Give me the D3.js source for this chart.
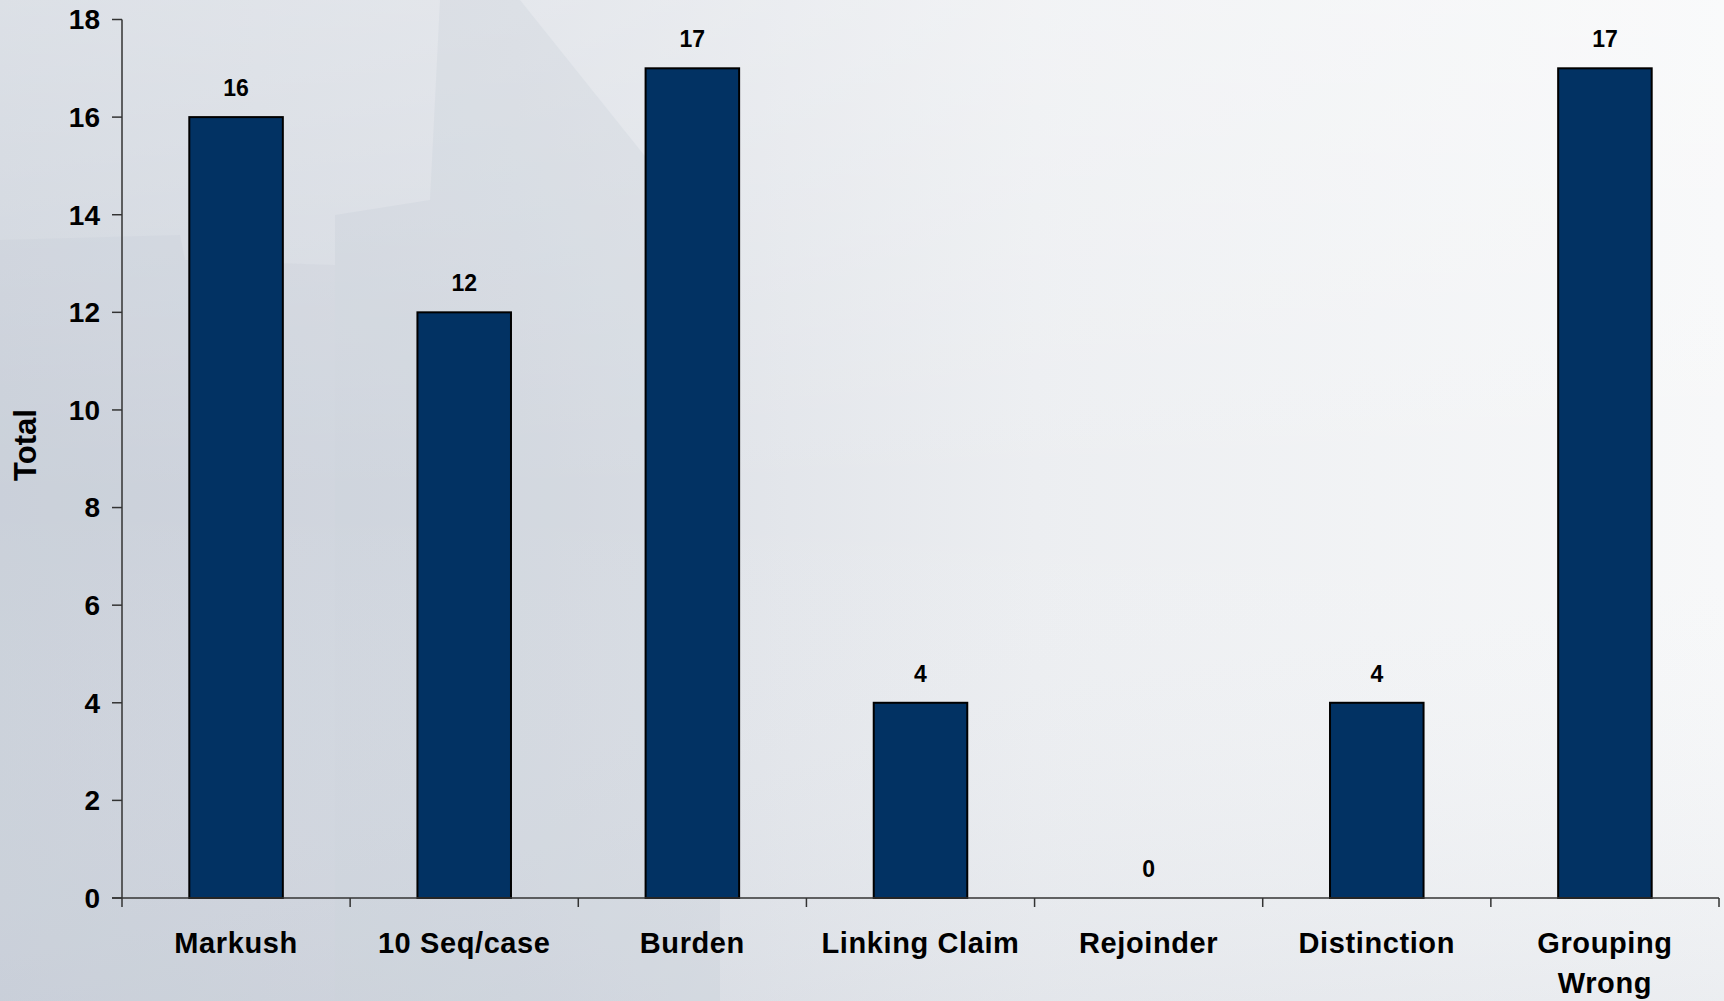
<!DOCTYPE html>
<html><head><meta charset="utf-8">
<script src="https://cdn.jsdelivr.net/npm/d3@7"></script>
<style>html,body{margin:0;padding:0;overflow:hidden;background:#eef0f3}</style>
</head><body><svg id="c" width="1724" height="1001"></svg>
<script>
const categories = ["Markush","10 Seq/case","Burden","Linking Claim","Rejoinder","Distinction","Grouping Wrong"];
const values = [16,12,17,4,0,4,17];
const yTicks = [0,2,4,6,8,10,12,14,16,18];

const svg = d3.select("#c");
const W = 1724, H = 1001;
const defs = svg.append("defs");
const g1 = defs.append("linearGradient").attr("id","bg").attr("x1","0").attr("y1","0").attr("x2","1").attr("y2","0");
g1.append("stop").attr("offset","0").attr("stop-color","#cdd3dc");
g1.append("stop").attr("offset","0.3").attr("stop-color","#d9dde4");
g1.append("stop").attr("offset","0.6").attr("stop-color","#eceef1");
g1.append("stop").attr("offset","1").attr("stop-color","#f7f8f9");
const g2 = defs.append("linearGradient").attr("id","bgv").attr("x1","0").attr("y1","0").attr("x2","0").attr("y2","1");
g2.append("stop").attr("offset","0").attr("stop-color","#ffffff").attr("stop-opacity","0.3");
g2.append("stop").attr("offset","0.5").attr("stop-color","#ffffff").attr("stop-opacity","0.0");
g2.append("stop").attr("offset","1").attr("stop-color","#c8ced8").attr("stop-opacity","0.25");
svg.append("rect").attr("width",W).attr("height",H).attr("fill","url(#bg)");
svg.append("rect").attr("width",W).attr("height",H).attr("fill","url(#bgv)");
// faint building silhouette
svg.append("path").attr("d","M335,1001 L335,215 L430,200 L440,0 L520,0 L640,150 L680,200 L720,230 L720,1001 Z")
  .attr("fill","#b8c0cc").attr("opacity",0.18);
svg.append("path").attr("d","M0,1001 L0,240 L180,235 L185,260 L335,265 L335,1001 Z")
  .attr("fill","#b8c0cc").attr("opacity",0.14);

const pL = 122, pR = 1719, pT = 19.5, pB = 898;
const x = d3.scaleBand().domain(categories).range([pL,pR]).paddingInner(0.59).paddingOuter(0.295);
const xb = d3.scaleBand().domain(categories).range([pL,pR]).padding(0);
const y = d3.scaleLinear().domain([0,18]).range([pB,pT]);

const font = "'Liberation Sans', Arial, sans-serif";

// bars
svg.selectAll("rect.bar").data(categories).enter().append("rect")
  .attr("class","bar")
  .attr("x", d => x(d))
  .attr("y", (d,i) => y(values[i]))
  .attr("width", x.bandwidth())
  .attr("height", (d,i) => y(0) - y(values[i]))
  .attr("fill","#023263").attr("stroke","#000").attr("stroke-width",2);

// value labels
svg.selectAll("text.val").data(categories).enter().append("text")
  .attr("x", d => x(d) + x.bandwidth()/2)
  .attr("y", (d,i) => y(values[i]) - 21)
  .attr("text-anchor","middle").attr("font-family",font).attr("font-weight","bold")
  .attr("font-size",23).attr("fill","#000")
  .text((d,i) => values[i]);

// y axis
const ax = svg.append("g").attr("stroke","#333");
ax.append("line").attr("x1",pL).attr("x2",pL).attr("y1",y(18)).attr("y2",y(0)).attr("stroke-width",1.5);
ax.selectAll("line.t").data(yTicks).enter().append("line")
  .attr("x1",pL-10).attr("x2",pL).attr("y1",d=>y(d)).attr("y2",d=>y(d)).attr("stroke-width",1.5);
svg.selectAll("text.yt").data(yTicks).enter().append("text")
  .attr("x", pL-22).attr("y", d => y(d)).attr("dy","0.35em")
  .attr("text-anchor","end").attr("font-family",font).attr("font-weight","bold")
  .attr("font-size",28).attr("fill","#000").text(d=>d);

// x axis
ax.append("line").attr("x1",pL-10).attr("x2",pR).attr("y1",pB).attr("y2",pB).attr("stroke-width",1.5);
const xt = categories.map(c => xb(c)).concat([pR]);
ax.selectAll("line.xt").data(xt).enter().append("line")
  .attr("x1",d=>d).attr("x2",d=>d).attr("y1",pB).attr("y2",pB+9).attr("stroke-width",1.5);

const xl = svg.selectAll("text.xl").data(categories).enter().append("text")
  .attr("x", d => x(d) + x.bandwidth()/2).attr("y", 953)
  .attr("text-anchor","middle").attr("font-family",font).attr("font-weight","bold")
  .attr("font-size",29).attr("letter-spacing","0.6px").attr("fill","#000");
xl.each(function(d){
  const parts = d === "Grouping Wrong" ? ["Grouping","Wrong"] : [d];
  const t = d3.select(this);
  parts.forEach((p,i)=>t.append("tspan").attr("x", x(d)+x.bandwidth()/2).attr("dy", i===0?0:40).text(p));
});

// y title
svg.append("text").attr("transform","translate(36,445) rotate(-90)")
  .attr("text-anchor","middle").attr("font-family",font).attr("font-weight","bold")
  .attr("font-size",31).attr("fill","#000").text("Total");
</script></body></html>
